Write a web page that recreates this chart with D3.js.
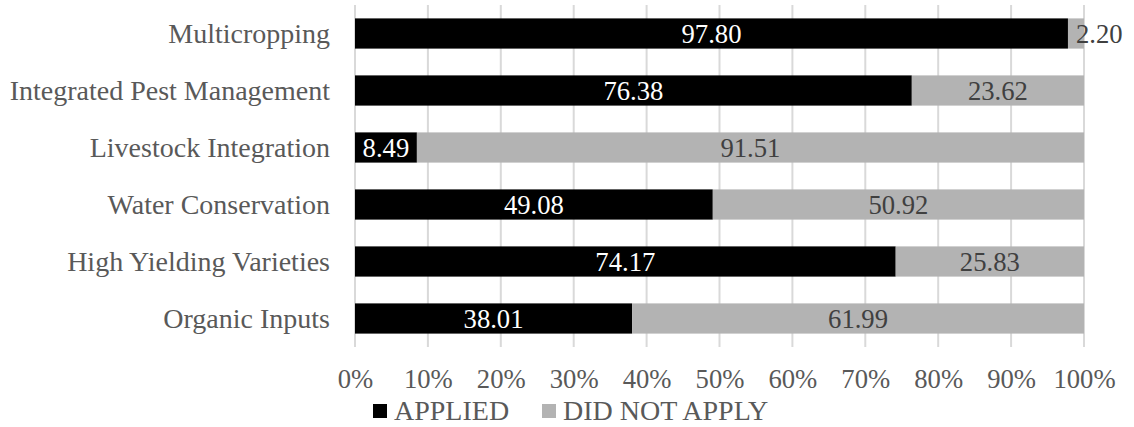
<!DOCTYPE html>
<html>
<head>
<meta charset="utf-8">
<script src="https://cdn.jsdelivr.net/npm/d3@7"></script>
<style>
  body { margin: 0; background: #fff; }
</style>
</head>
<body>
<svg width="1134" height="427"></svg>
<script>
// Data
var practices = ['Multicropping', 'Integrated Pest Management', 'Livestock Integration',
  'Water Conservation', 'High Yielding Varieties', 'Organic Inputs'];
var applied = [97.80, 76.38, 8.49, 49.08, 74.17, 38.01];
var notApplied = [2.20, 23.62, 91.51, 50.92, 25.83, 61.99];
var seriesNames = ['APPLIED', 'DID NOT APPLY'];
var seriesColors = ['#000000', '#b3b3b3'];
var labelColors = ['#ffffff', '#404040'];
var tickValues = [0, 0.1, 0.2, 0.3, 0.4, 0.5, 0.6, 0.7, 0.8, 0.9, 1];

var font = 'Liberation Serif';
var fontSize = 26.67;
var catSize = 28;
var svg = d3.select('svg');

var x = d3.scaleLinear().domain([0, 1]).range([355, 1084]);
var y = d3.scaleBand().domain(practices).range([5, 347]).paddingInner(0.47).paddingOuter(0.235);

// Gridlines
svg.append('g')
  .selectAll('line')
  .data(tickValues)
  .enter().append('line')
  .attr('x1', function (d) { return x(d); })
  .attr('x2', function (d) { return x(d); })
  .attr('y1', 5)
  .attr('y2', 347)
  .style('stroke', '#d9d9d9')
  .style('stroke-width', 2);

// Stacked rows
var rows = practices.map(function (p, i) {
  var total = applied[i] + notApplied[i];
  return [
    { name: p, s: 0, v: applied[i], x0: 0, x1: applied[i] / total },
    { name: p, s: 1, v: notApplied[i], x0: applied[i] / total, x1: 1 }
  ];
});
var segs = d3.merge(rows);

svg.append('g')
  .selectAll('rect')
  .data(segs)
  .enter().append('rect')
  .attr('x', function (d) { return x(d.x0); })
  .attr('width', function (d) { return x(d.x1) - x(d.x0); })
  .attr('y', function (d) { return y(d.name); })
  .attr('height', y.bandwidth())
  .style('fill', function (d) { return seriesColors[d.s]; });

// Value labels
svg.append('g')
  .selectAll('text')
  .data(segs)
  .enter().append('text')
  .attr('y', function (d) { return y(d.name) + y.bandwidth() / 2; })
  .attr('dy', '0.35em')
  .attr('text-anchor', 'middle')
  .style('font-family', font)
  .style('font-size', fontSize + 'px')
  .style('fill', function (d) { return labelColors[d.s]; })
  .text(function (d) { return d.v.toFixed(2); })
  .attr('x', function (d) {
    var w = this.getComputedTextLength();
    var cx = (x(d.x0) + x(d.x1)) / 2;
    // label wider than its segment: push it right, like the reference
    if (w > x(d.x1) - x(d.x0)) cx = Math.max(cx, x(d.x0) + w / 2 + 8);
    return cx;
  });

// Category labels
svg.append('g')
  .selectAll('text')
  .data(practices)
  .enter().append('text')
  .attr('x', 330)
  .attr('y', function (d) { return y(d) + y.bandwidth() / 2; })
  .attr('dy', '0.35em')
  .attr('text-anchor', 'end')
  .style('font-family', font)
  .style('font-size', catSize + 'px')
  .style('fill', '#595959')
  .text(function (d) { return d; });

// Bottom axis
var xAxis = d3.axisBottom(x).tickValues(tickValues).tickFormat(d3.format('.0%')).tickSize(0).tickPadding(0);
var ax = svg.append('g').attr('transform', 'translate(0,388)').call(xAxis);
ax.select('.domain').remove();
ax.selectAll('text')
  .attr('dy', 0)
  .style('font-family', font)
  .style('font-size', fontSize + 'px')
  .style('fill', '#595959');

// Legend
var legendX = [373, 542];
var legend = svg.append('g')
  .selectAll('g')
  .data(seriesNames)
  .enter().append('g')
  .attr('transform', function (d, i) { return 'translate(' + legendX[i] + ',0)'; });
legend.append('rect')
  .attr('y', 404)
  .attr('width', 14)
  .attr('height', 14)
  .style('fill', function (d, i) { return seriesColors[i]; });
legend.append('text')
  .attr('x', 21)
  .attr('y', 420)
  .style('font-family', font)
  .style('font-size', catSize + 'px')
  .style('fill', '#595959')
  .text(function (d) { return d; });
</script>
</body>
</html>
